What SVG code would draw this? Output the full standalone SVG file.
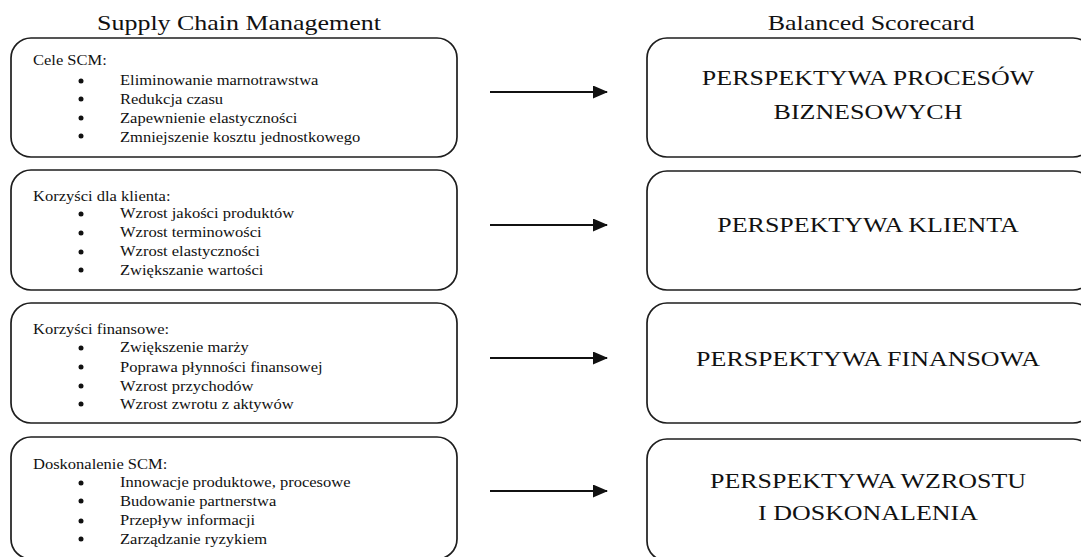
<svg xmlns="http://www.w3.org/2000/svg" width="1081" height="557" viewBox="0 0 1081 557">
<defs>
<style>
.box{fill:#fff;stroke:#1e1e1e;stroke-width:1.7}
.t{font-family:"Liberation Serif","Times New Roman",serif;fill:#111}
.hd{font-size:22px;text-anchor:middle}
.sm{font-size:14px}
.big{font-size:22px;text-anchor:middle}
.bul{fill:#111}
.conn line{stroke:#111;stroke-width:2}
</style>
<marker id="ah" markerWidth="15" markerHeight="13" refX="14" refY="6.5" orient="auto" markerUnits="userSpaceOnUse">
<path d="M0,0 L15,6.5 L0,13 Z" fill="#111"/>
</marker>
</defs>
<rect width="1081" height="557" fill="#fff"/>
<g id="headers">
<text class="t hd" transform="translate(239,30) scale(1.18,1)">Supply Chain Management</text>
<text class="t hd" transform="translate(871,30) scale(1.18,1)">Balanced Scorecard</text>
</g>
<g id="scm1">
<rect class="box" x="11" y="38" width="446" height="119" rx="20"/>
<text class="t sm" transform="translate(33,65) scale(1.18,1)">Cele SCM:</text>
<circle class="bul" cx="81" cy="81" r="2.5"/><circle class="bul" cx="81" cy="99" r="2.5"/><circle class="bul" cx="81" cy="118" r="2.5"/><circle class="bul" cx="81" cy="136" r="2.5"/>
<text class="t sm" transform="translate(120,85) scale(1.18,1)">Eliminowanie marnotrawstwa</text>
<text class="t sm" transform="translate(120,104) scale(1.18,1)">Redukcja czasu</text>
<text class="t sm" transform="translate(120,123) scale(1.18,1)">Zapewnienie elastyczności</text>
<text class="t sm" transform="translate(120,142) scale(1.18,1)">Zmniejszenie kosztu jednostkowego</text>
</g>
<g id="scm2">
<rect class="box" x="11" y="170" width="446" height="120" rx="20"/>
<text class="t sm" transform="translate(33,201) scale(1.18,1)">Korzyści dla klienta:</text>
<circle class="bul" cx="81" cy="214" r="2.5"/><circle class="bul" cx="81" cy="233" r="2.5"/><circle class="bul" cx="81" cy="252" r="2.5"/><circle class="bul" cx="81" cy="270" r="2.5"/>
<text class="t sm" transform="translate(120,218) scale(1.18,1)">Wzrost jakości produktów</text>
<text class="t sm" transform="translate(120,237) scale(1.18,1)">Wzrost terminowości</text>
<text class="t sm" transform="translate(120,256) scale(1.18,1)">Wzrost elastyczności</text>
<text class="t sm" transform="translate(120,275) scale(1.18,1)">Zwiększanie wartości</text>
</g>
<g id="scm3">
<rect class="box" x="11" y="303" width="446" height="120" rx="20"/>
<text class="t sm" transform="translate(33,334) scale(1.18,1)">Korzyści finansowe:</text>
<circle class="bul" cx="81" cy="348" r="2.5"/><circle class="bul" cx="81" cy="367" r="2.5"/><circle class="bul" cx="81" cy="386" r="2.5"/><circle class="bul" cx="81" cy="404" r="2.5"/>
<text class="t sm" transform="translate(120,352) scale(1.18,1)">Zwiększenie marży</text>
<text class="t sm" transform="translate(120,372) scale(1.18,1)">Poprawa płynności finansowej</text>
<text class="t sm" transform="translate(120,391) scale(1.18,1)">Wzrost przychodów</text>
<text class="t sm" transform="translate(120,409) scale(1.18,1)">Wzrost zwrotu z aktywów</text>
</g>
<g id="scm4">
<rect class="box" x="11" y="437" width="446" height="122" rx="20"/>
<text class="t sm" transform="translate(33,469) scale(1.18,1)">Doskonalenie SCM:</text>
<circle class="bul" cx="81" cy="483" r="2.5"/><circle class="bul" cx="81" cy="501" r="2.5"/><circle class="bul" cx="81" cy="521" r="2.5"/><circle class="bul" cx="81" cy="539" r="2.5"/>
<text class="t sm" transform="translate(120,487) scale(1.18,1)">Innowacje produktowe, procesowe</text>
<text class="t sm" transform="translate(120,506) scale(1.18,1)">Budowanie partnerstwa</text>
<text class="t sm" transform="translate(120,525) scale(1.18,1)">Przepływ informacji</text>
<text class="t sm" transform="translate(120,544) scale(1.18,1)">Zarządzanie ryzykiem</text>
</g>
<g id="bsc1">
<rect class="box" x="647" y="38" width="446" height="119" rx="20"/>
<text class="t big" transform="translate(868,85) scale(1.18,1)">PERSPEKTYWA PROCESÓW</text>
<text class="t big" transform="translate(868,119) scale(1.18,1)">BIZNESOWYCH</text>
</g>
<g id="bsc2">
<rect class="box" x="647" y="171" width="446" height="119" rx="20"/>
<text class="t big" transform="translate(868,232) scale(1.18,1)">PERSPEKTYWA KLIENTA</text>
</g>
<g id="bsc3">
<rect class="box" x="647" y="303" width="446" height="120" rx="20"/>
<text class="t big" transform="translate(868,366) scale(1.18,1)">PERSPEKTYWA FINANSOWA</text>
</g>
<g id="bsc4">
<rect class="box" x="647" y="439" width="446" height="122" rx="20"/>
<text class="t big" transform="translate(868,488) scale(1.18,1)">PERSPEKTYWA WZROSTU</text>
<text class="t big" transform="translate(868,520) scale(1.18,1)">I DOSKONALENIA</text>
</g>
<g id="connectors" class="conn">
<line x1="490" y1="92" x2="607" y2="92" marker-end="url(#ah)"/>
<line x1="490" y1="225" x2="607" y2="225" marker-end="url(#ah)"/>
<line x1="490" y1="358" x2="607" y2="358" marker-end="url(#ah)"/>
<line x1="490" y1="491" x2="607" y2="491" marker-end="url(#ah)"/>
</g>
</svg>
